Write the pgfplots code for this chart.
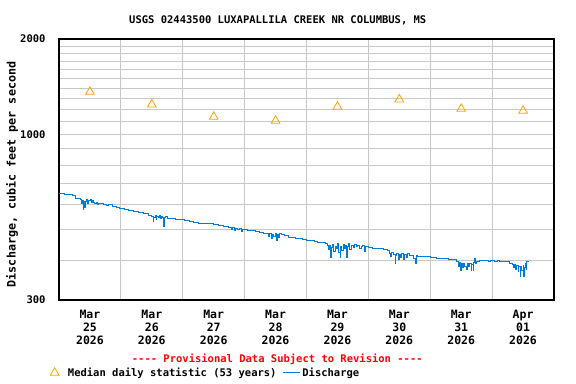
\documentclass[border=0pt]{standalone}
\usepackage{fontspec}
\setmainfont{DejaVu Sans Mono}[Ligatures=TeXOff]
\usepackage{pgfplots}
\pgfplotsset{compat=1.18}
\definecolor{usgsblue}{RGB}{0,125,210}
\definecolor{usgsorange}{RGB}{255,165,0}
\definecolor{gridgray}{RGB}{200,200,200}
\newcommand{\fs}[1]{\fontsize{#1bp}{#1bp}\selectfont\bfseries}

\begin{document}
\bfseries
\begin{tikzpicture}
\path[use as bounding box] (-59bp,-84bp) rectangle (517bp,300bp);
\begin{axis}[
    at={(0,0)}, anchor=south west,
    scale only axis,
    width=495bp, height=261bp,
    xmin=0, xmax=8,
    ymode=log, ymin=300, ymax=2000,
    axis line style={line width=1.2bp, black},
    xtick={0.5,1.5,...,7.5},
    xticklabels={{Mar\\25\\2026},{Mar\\26\\2026},{Mar\\27\\2026},{Mar\\28\\2026},
                 {Mar\\29\\2026},{Mar\\30\\2026},{Mar\\31\\2026},{Apr\\01\\2026}},
    xticklabel style={align=center, yshift=-7bp, font=\fontsize{11.5bp}{13bp}\selectfont\bfseries},
    minor xtick={1,2,3,4,5,6,7},
    xminorgrids=true,
    ytick={300,1000,2000},
    yticklabels={300,1000,2000},
    yticklabel style={xshift=-10bp, font=\fs{10.5}},
    minor ytick={400,500,600,700,800,900,1100,1200,1300,1400,1500,1600,1700,1800,1900},
    ymajorgrids=true, yminorgrids=true,
    major tick length=0pt, minor tick length=0pt,
    grid style={gridgray, line width=1bp},
    minor grid style={gridgray, line width=1bp},
    title={USGS 02443500 LUXAPALLILA CREEK NR COLUMBUS, MS},
    title style={at={(0.442,1.05)}, anchor=center, font=\fs{10.5}},
    ylabel={Discharge, cubic feet per second},
    ylabel style={at={(-0.095,0.481)}, anchor=center, rotate=0, font=\fs{11.7}},
    legend columns=2,
    legend style={at={(-0.024,-0.2785)}, anchor=west, draw=none, fill=none,
        font=\fs{10.5}, /tikz/column 1/.style={column sep=7bp},
        /tikz/every even column/.append style={column sep=4bp}},
    clip=false,
]
\addplot[only marks, mark=triangle, mark size=5bp, usgsorange,
    mark options={line width=0.8bp}] coordinates {
    (0.5,1362) (1.5,1243) (2.5,1136) (3.5,1104)
    (4.5,1222) (5.5,1289) (6.5,1204) (7.5,1187)
};
\addlegendentry{Median daily statistic (53 years)}

\addplot[const plot, usgsblue, line width=0.8bp] table {
0.00 652
0.08 648
0.16 644
0.22 640
0.27 628
0.34 622
0.36 606
0.38 620
0.39 580
0.40 616
0.41 586
0.42 614
0.445 622
0.46 604
0.48 618
0.50 624
0.52 608
0.54 618
0.56 612
0.58 604
0.60 610
0.62 600
0.64 606
0.72 602
0.76 596
0.80 600
0.86 593
0.92 588
0.98 584
1.05 581
1.12 576
1.20 570
1.28 567
1.36 562
1.44 556
1.50 552
1.52 530
1.53 548
1.55 556
1.57 538
1.58 552
1.60 546
1.62 556
1.64 542
1.65 552
1.67 548
1.69 512
1.70 546
1.72 550
1.76 544
1.82 542
1.88 540
1.94 537
2.02 534
2.10 530
2.18 528
2.26 524
2.34 522
2.42 523
2.50 518
2.58 515
2.66 512
2.74 508
2.78 502
2.80 508
2.83 496
2.85 506
2.88 500
2.91 504
2.94 494
2.96 502
3.00 500
3.04 497
3.10 496
3.18 494
3.24 490
3.30 488
3.36 486
3.38 476
3.40 486
3.43 470
3.45 484
3.47 478
3.49 488
3.51 462
3.53 482
3.55 474
3.57 486
3.60 482
3.64 481
3.70 474
3.76 472
3.82 470
3.88 468
3.94 466
4.00 464
4.06 461
4.12 458
4.18 457
4.24 455
4.30 452
4.33 446
4.35 432
4.37 446
4.38 408
4.40 440
4.42 450
4.44 428
4.46 444
4.48 436
4.50 452
4.52 424
4.54 408
4.55 444
4.57 430
4.59 450
4.61 438
4.63 446
4.65 410
4.66 442
4.68 452
4.70 434
4.72 446
4.75 440
4.78 450
4.80 442
4.83 446
4.86 436
4.88 444
4.91 446
4.94 428
4.95 442
5.00 440
5.06 438
5.12 437
5.18 436
5.24 434
5.30 430
5.34 420
5.36 412
5.37 424
5.40 418
5.43 392
5.44 414
5.46 420
5.48 402
5.50 418
5.52 410
5.54 422
5.56 404
5.58 418
5.61 408
5.63 420
5.66 414
5.70 416
5.73 406
5.76 392
5.77 416
5.80 412
5.90 411
6.00 409
6.10 407
6.20 405
6.30 404
6.38 402
6.43 396
6.45 384
6.47 394
6.49 371
6.50 390
6.52 380
6.54 392
6.56 382
6.58 374
6.60 392
6.62 384
6.64 390
6.66 371
6.67 388
6.69 371
6.70 394
6.72 406
6.73 392
6.75 398
6.80 399
6.86 399
6.90 400
6.94 398
6.98 400
7.04 396
7.08 399
7.12 398
7.18 396
7.22 396
7.28 392
7.32 388
7.34 380
7.36 388
7.38 374
7.40 386
7.42 368
7.43 384
7.45 357
7.46 382
7.48 372
7.50 386
7.51 357
7.52 380
7.54 392
7.55 376
7.56 396
7.58 398
};
\addlegendentry{Discharge}

\node[red, font=\fs{10.5}, anchor=center] at (axis description cs:0.441,-0.226)
    {---- Provisional Data Subject to Revision ----};
\end{axis}
\end{tikzpicture}
\end{document}
